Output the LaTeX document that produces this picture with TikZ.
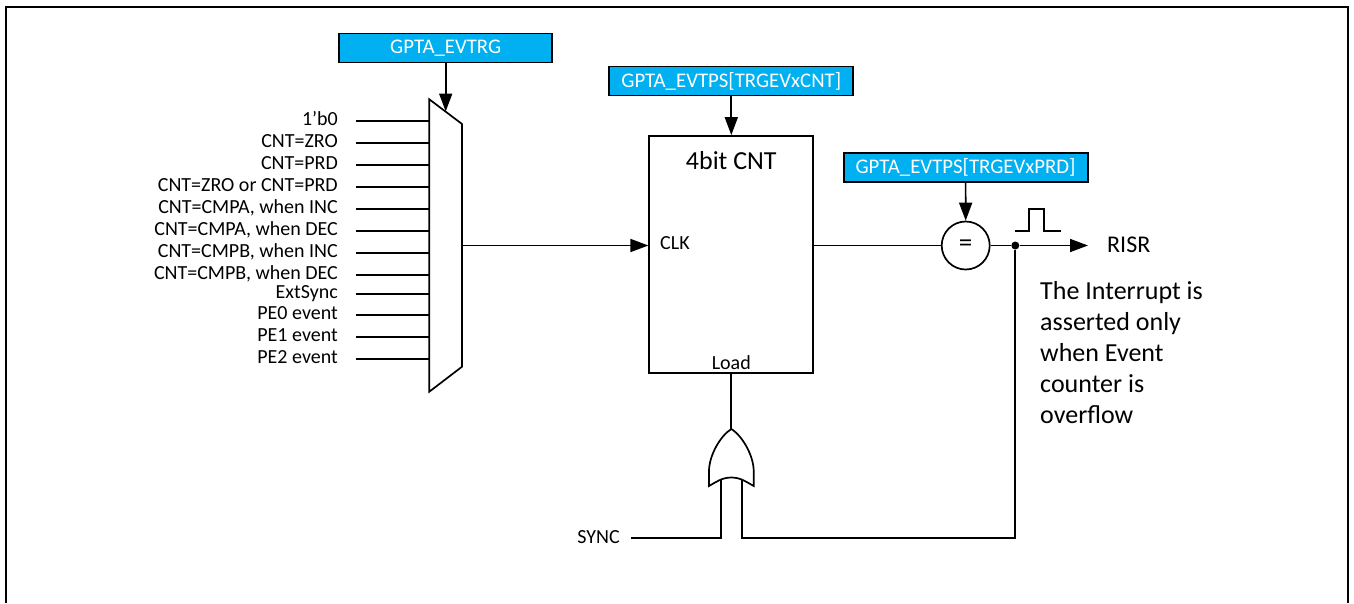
\documentclass[tikz,border=0pt]{standalone}
\usepackage{fontspec}
\setmainfont{Carlito}
\usetikzlibrary{positioning,arrows.meta,calc}
\definecolor{regblue}{HTML}{00B0F0}
\tikzset{
  wire/.style={line width=1.7pt},
  sigarrow/.style={wire,-{Triangle[length=18pt,width=13pt]}},
  regbox/.style={draw,line width=1.8pt,fill=regblue,text=white,font=\fontsize{20.8}{22}\selectfont,minimum height=29pt,inner sep=0pt},
  insig/.style={anchor=mid east,inner sep=0pt,yshift=-2pt,font=\fontsize{20}{22}\selectfont},
  smalltxt/.style={inner sep=0pt,font=\fontsize{20}{22}\selectfont},
}
\NewDocumentCommand{\drawinput}{ m m m }
{
  \node[insig] (lab#1) at (338,#2) {#3};
  \coordinate (in#1) at (355.5,#2);
  \coordinate (mx#1) at (429,#2);
  \draw[wire] (in#1) -- (mx#1);
}
\begin{document}
\begin{tikzpicture}[x=1pt,y=-1pt]
  \useasboundingbox (0,0) rectangle (1354,603);
  \coordinate (fbl) at (5.5,603);
  \coordinate (ftl) at (5.5,6.5);
  \coordinate (ftr) at (1347.5,6.5);
  \coordinate (fbr) at (1347.5,603);
  \draw[line width=2pt] (fbl) -- (ftl) -- (ftr) -- (fbr);
  \drawinput{a}{121}{1'b0}
  \drawinput{b}{143}{CNT=ZRO}
  \drawinput{c}{165}{CNT=PRD}
  \drawinput{d}{187}{CNT=ZRO or CNT=PRD}
  \drawinput{e}{209}{CNT=CMPA, when INC}
  \drawinput{f}{230.7}{CNT=CMPA, when DEC}
  \drawinput{g}{252.7}{CNT=CMPB, when INC}
  \drawinput{h}{274.7}{CNT=CMPB, when DEC}
  \drawinput{i}{293.7}{ExtSync}
  \drawinput{j}{315.3}{PE0 event}
  \drawinput{k}{337.3}{PE1 event}
  \drawinput{l}{359.3}{PE2 event}
  \draw[wire,fill=white] (429.3,99.3) -- (462,124) -- (462,366.7) -- (429.3,391.7) -- cycle;
  \coordinate (muxtop) at (445.7,111.5);
  \coordinate (muxout) at (462,245.5);
  \node[regbox,minimum width=213pt] (evtrg) at (445.7,48) {GPTA\_EVTRG};
  \node[regbox,minimum width=244pt] (evtpscnt) at (731.3,81) {GPTA\_EVTPS[TRGEVxCNT]};
  \node[regbox,minimum width=244pt] (evtpsprd) at (965.6,167.5) {GPTA\_EVTPS[TRGEVxPRD]};
  \node[draw,line width=1.8pt,minimum width=164pt,minimum height=237pt,inner sep=0pt] (cnt) at (731.3,254.5) {};
  \node[inner sep=0pt,font=\fontsize{26}{28}\selectfont] (cntname) at (731.3,161) {4bit CNT};
  \node[smalltxt,anchor=mid west,yshift=-2pt] (clk) at (660,245.5) {CLK};
  \node[smalltxt] (load) at (731.3,363) {Load};
  \node[draw,circle,wire,minimum size=48pt,inner sep=0pt,font=\fontsize{27}{29}\selectfont] (eqcmp) at (965.7,245.5) {=};
  \node[circle,fill=black,minimum size=8pt,inner sep=0pt] (jt) at (1015.3,245.5) {};
  \coordinate (cntin) at (cnt.west |- muxout);
  \coordinate (cntout) at (cnt.east |- muxout);
  \coordinate (rout) at (1088,245.5);
  \node[anchor=mid west,inner sep=0pt,yshift=-5pt,font=\fontsize{24}{26}\selectfont] (risr) at (1107,245.5) {RISR};
  \draw[sigarrow] (evtrg.south -| muxtop) -- (muxtop);
  \draw[sigarrow] (evtpscnt.south) -- (cnt.north);
  \draw[sigarrow] (evtpsprd.south) -- (eqcmp.north);
  \draw[sigarrow] (muxout) -- (cntin);
  \draw[wire] (cntout) -- (eqcmp.west);
  \draw[wire] (eqcmp.east) -- (jt);
  \draw[sigarrow] (jt) -- (rout);
  \draw[wire] (1015,231) -- (1029,231) -- (1029,209) -- (1044,209) -- (1044,231) -- (1061,231);
  \coordinate (ortip) at (731.3,429);
  \coordinate (orl) at (720.7,479);
  \coordinate (orr) at (742.3,479);
  \draw[wire] (ortip) -- (cnt.south);
  \draw[wire,fill=white] (ortip) .. controls (720,436) and (709,456) .. (709,471) -- (709,486) .. controls (716,482) and (722,477.5) .. (731.3,477.5) .. controls (740.6,477.5) and (746.6,482) .. (753.7,486) -- (753.7,471) .. controls (753.7,456) and (742.6,436) .. (ortip) -- cycle;
  \node[smalltxt,anchor=mid east,yshift=-3pt] (sync) at (620,537.7) {SYNC};
  \coordinate (syncs) at (630.7,537.7);
  \draw[wire] (syncs) -- (orl |- syncs) -- (orl);
  \draw[wire] (jt) -- (jt |- syncs) -- (orr |- syncs) -- (orr);
  \node[anchor=north west,inner sep=0pt,align=left,font=\fontsize{26}{31}\selectfont] (note) at (1040,281) {The Interrupt is\\asserted only\\when Event\\counter is\\overflow};
\end{tikzpicture}
\end{document}
